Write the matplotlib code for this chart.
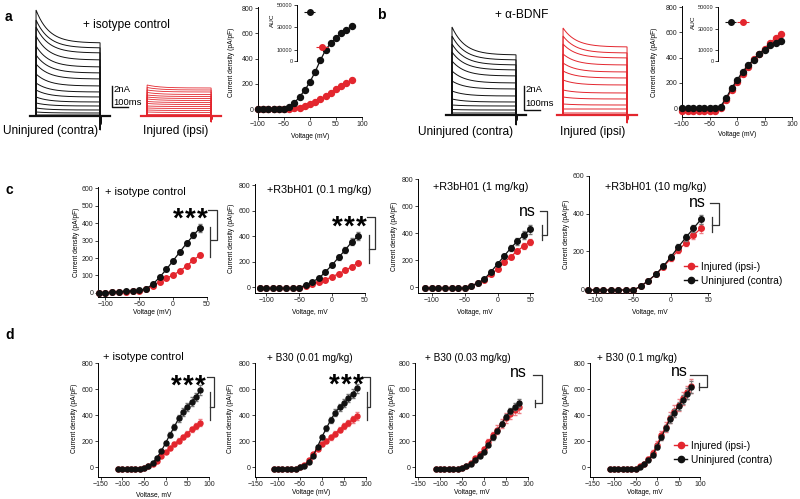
import numpy as np
import matplotlib
matplotlib.use('Agg')
import matplotlib.pyplot as plt
from matplotlib.lines import Line2D

plt.rcParams['font.family'] = ['Liberation Sans', 'DejaVu Sans']

# ---------------- data ----------------
# panel a / b current traces (nA), one value per voltage step
a_contra_peak = [10.6, 9.6, 8.9, 8.0, 7.0, 6.1, 5.2, 4.2, 3.3, 2.6, 1.9, 1.3, 0.8, 0.4, 0.1]
a_contra_steady = [7.3, 6.8, 6.3, 5.6, 4.9, 4.3, 3.7, 3.0, 2.4, 1.9, 1.4, 1.0, 0.6, 0.3, 0.1]
a_ipsi_peak = [3.1, 2.85, 2.6, 2.35, 2.1, 1.9, 1.7, 1.45, 1.25, 1.0, 0.8, 0.6, 0.4, 0.15]
a_ipsi_steady = [2.8, 2.6, 2.4, 2.15, 1.95, 1.75, 1.55, 1.35, 1.15, 0.95, 0.75, 0.55, 0.35, 0.15]
b_contra_peak = [8.8, 7.9, 7.1, 6.3, 5.4, 4.4, 3.4, 2.4, 1.6, 1.0, 0.55, 0.2]
b_contra_steady = [6.0, 5.5, 5.0, 4.5, 3.9, 3.2, 2.6, 1.9, 1.3, 0.9, 0.5, 0.2]
b_ipsi_peak = [8.7, 7.9, 7.1, 6.1, 5.2, 4.4, 3.5, 2.5, 1.8, 1.1, 0.6, 0.2]
b_ipsi_steady = [6.8, 6.2, 5.7, 5.0, 4.3, 3.7, 3.0, 2.2, 1.6, 1.0, 0.6, 0.2]
PULSE_MS = 400
TAU_MS = 80

# panel a / b IV curves (pA/pF)
ab_v = [-100, -90, -80, -70, -60, -50, -40, -30, -20, -10, 0, 10, 20, 30, 40, 50, 60, 70, 80]
a_contra = [0, 0, 0, 0, 0, 5, 20, 50, 98, 150, 216, 296, 388, 467, 525, 560, 599, 626, 655]
a_ipsi = [0, 0, 0, 0, 0, 0, 3, 8, 13, 25, 40, 58, 80, 103, 129, 156, 182, 209, 230]
b_contra = [0, 0, 0, 0, 0, 0, 0, 13, 78, 157, 222, 287, 339, 384, 431, 462, 496, 512, 530]
b_ipsi = [-20, -20, -20, -20, -20, -20, -20, 0, 65, 145, 205, 270, 325, 385, 430, 470, 515, 555, 585]
a_auc = [43700, 12300]   # contra, ipsi
b_auc = [36000, 36000]

# panel c
c_v = [-110, -100, -90, -80, -70, -60, -50, -40, -30, -20, -10, 0, 10, 20, 30, 40]
c3_v = [-110, -100, -90, -80, -70, -60, -50, -40, -30, -20, -10, 0, 10, 20, 30, 40, 50]
c1_contra = [0, 2, 4, 8, 10, 12, 15, 25, 50, 90, 135, 185, 235, 285, 330, 373]
c1_ipsi = [0, 2, 4, 6, 8, 10, 12, 20, 40, 65, 84, 103, 126, 154, 189, 217]
c1_contra_err = [2, 2, 2, 2, 2, 3, 3, 4, 5, 7, 9, 11, 13, 15, 18, 22]
c1_ipsi_err = [2, 2, 2, 2, 2, 2, 2, 3, 3, 4, 5, 6, 7, 8, 9, 10]
c2_contra = [-10, -10, -10, -10, -10, -10, -5, 15, 42, 68, 120, 172, 233, 290, 355, 400]
c2_ipsi = [-10, -10, -10, -10, -10, -10, -5, 5, 20, 40, 58, 80, 105, 130, 160, 190]
c2_contra_err = [3, 3, 3, 3, 3, 3, 3, 4, 6, 8, 12, 15, 18, 22, 26, 30]
c2_ipsi_err = [3, 3, 3, 3, 3, 3, 3, 3, 4, 5, 6, 7, 8, 9, 10, 12]
c3_contra = [-8, -8, -8, -8, -8, -8, -8, 10, 30, 59, 113, 170, 230, 287, 340, 385, 427]
c3_ipsi = [-8, -8, -8, -8, -8, -8, -8, 10, 28, 55, 94, 133, 183, 224, 267, 304, 335]
c3_contra_err = [3, 3, 3, 3, 3, 3, 3, 4, 6, 8, 12, 15, 18, 22, 26, 30, 32]
c3_ipsi_err = [3, 3, 3, 3, 3, 3, 3, 4, 5, 7, 9, 11, 13, 15, 17, 19, 20]
c4_contra = [-5, -5, -5, -5, -5, -5, -5, 15, 45, 78, 122, 171, 224, 274, 322, 370]
c4_ipsi = [-5, -5, -5, -5, -5, -5, -5, 15, 45, 78, 118, 163, 207, 246, 286, 322]
c4_contra_err = [3, 3, 3, 3, 3, 3, 3, 4, 6, 8, 10, 13, 16, 18, 20, 24]
c4_ipsi_err = [3, 3, 3, 3, 3, 3, 3, 4, 6, 8, 10, 13, 15, 17, 19, 22]

# panel d
d_v = [-110, -100, -90, -80, -70, -60, -50, -40, -30, -20, -10, 0, 10, 20, 30, 40, 50, 60, 70, 80]
d1_contra = [-15, -15, -12, -12, -10, -10, -5, 8, 35, 75, 125, 188, 252, 312, 375, 425, 465, 505, 540, 590]
d1_ipsi = [-15, -15, -12, -12, -10, -10, -5, 8, 25, 51, 85, 118, 149, 180, 206, 234, 260, 291, 317, 342]
d1_contra_err = [4, 4, 4, 4, 4, 4, 4, 5, 6, 8, 10, 14, 18, 22, 26, 28, 30, 32, 34, 38]
d1_ipsi_err = [3, 3, 3, 3, 3, 3, 3, 4, 5, 6, 8, 10, 12, 14, 16, 18, 20, 22, 24, 26]
d2_contra = [-12, -12, -12, -12, -12, -12, 0, 15, 45, 90, 160, 235, 300, 365, 420, 460, 495, 530, 565, 605]
d2_ipsi = [-12, -12, -12, -12, -12, -12, 0, 20, 55, 100, 145, 180, 205, 230, 260, 290, 317, 342, 368, 394]
d2_contra_err = [4, 4, 4, 4, 4, 4, 4, 5, 6, 8, 12, 16, 20, 24, 26, 28, 30, 32, 34, 36]
d2_ipsi_err = [3, 3, 3, 3, 3, 3, 3, 4, 6, 8, 10, 12, 14, 16, 18, 20, 22, 24, 26, 28]
d3_contra = [-15, -15, -15, -15, -15, -15, -5, 10, 30, 60, 90, 120, 175, 230, 280, 335, 390, 430, 465, 495]
d3_ipsi = [-15, -15, -15, -15, -15, -15, -5, 12, 35, 70, 100, 140, 195, 245, 290, 335, 380, 410, 440, 460]
d3_contra_err = [4, 4, 4, 4, 4, 4, 4, 5, 6, 8, 10, 12, 14, 16, 18, 20, 22, 24, 26, 30]
d3_ipsi_err = [4, 4, 4, 4, 4, 4, 4, 6, 8, 12, 16, 20, 24, 28, 32, 36, 38, 40, 42, 46]
d4_contra = [-15, -15, -15, -15, -15, -15, -8, 5, 25, 55, 95, 160, 230, 300, 370, 420, 470, 520, 565, 615]
d4_ipsi = [-15, -15, -15, -15, -15, -15, -8, 8, 30, 65, 110, 175, 245, 310, 380, 430, 480, 530, 575, 625]
d4_contra_err = [4, 4, 4, 4, 4, 4, 4, 5, 6, 8, 12, 16, 20, 24, 28, 30, 32, 36, 40, 44]
d4_ipsi_err = [5, 5, 5, 5, 5, 5, 5, 8, 10, 15, 20, 26, 32, 38, 42, 46, 48, 50, 52, 56]

BLACK = '#111111'
RED = '#e3262e'
W, H = 800, 499

fig = plt.figure(figsize=(8, 4.99), dpi=100)


def box(l, t, r, b):
    return [l / W, 1 - b / H, (r - l) / W, (b - t) / H]


def fx(x):
    return x / W


def fy(y):
    return 1 - y / H


def ftext(x, y, s, **kw):
    fig.text(fx(x), fy(y), s, **kw)


def stars(xc, yc):
    # three bold asterisks, ink centred on (xc, yc)
    for dx in (-12, 0, 12):
        ftext(xc + dx, yc + 15, '*', fontsize=20, fontweight='bold', ha='center', va='baseline')


def bracket(pts, extra):
    xs, ys = zip(*pts)
    fig.add_artist(Line2D([fx(v) for v in xs], [fy(v) for v in ys], color='#333333', lw=0.9))
    xs, ys = zip(*extra)
    fig.add_artist(Line2D([fx(v) for v in xs], [fy(v) for v in ys], color='#333333', lw=0.9))


def clean(ax, labelsize=5):
    for s in ['top', 'right']:
        ax.spines[s].set_visible(False)
    for s in ['left', 'bottom']:
        ax.spines[s].set_linewidth(0.7)
    ax.tick_params(length=2, width=0.6, labelsize=labelsize, pad=1.2, colors='#222222')


def iv_axes(rect, v, ipsi, contra, ipsi_err, contra_err, xlim, ylim, xt, yt, ms):
    ax = fig.add_axes(box(*rect))
    ax.errorbar(v, ipsi, yerr=ipsi_err, color=RED, ecolor='#ee8088', marker='o', ms=ms,
                lw=0.9, capsize=1.2, elinewidth=0.6, clip_on=False, zorder=3)
    ax.errorbar(v, contra, yerr=contra_err, color=BLACK, ecolor='#777777', marker='o', ms=ms,
                lw=0.9, capsize=1.2, elinewidth=0.6, clip_on=False, zorder=4)
    ax.set_xlim(*xlim)
    ax.set_ylim(*ylim)
    ax.set_xticks(xt)
    ax.set_yticks(yt)
    clean(ax)
    return ax


def traces(ax, t0, peaks, steadies, color, tail, lw):
    t = np.linspace(0, PULSE_MS, 200)
    for p, s in zip(peaks, steadies):
        cur = s + (p - s) * np.exp(-t / TAU_MS)
        tt = np.concatenate([[t0 - 40, t0], t0 + t, [t0 + PULSE_MS, t0 + PULSE_MS + 8, t0 + PULSE_MS + 60]])
        ii = np.concatenate([[0, 0], cur, [tail, 0, 0]])
        ax.plot(tt, ii, color=color, lw=lw, solid_joinstyle='miter')
    ax.plot([t0 - 40, t0 + PULSE_MS + 60], [0, 0], color=color, lw=1.6)


def auc_inset(rect, auc):
    ax = fig.add_axes(box(*rect))
    ax.patch.set_alpha(0)
    ax.errorbar([0], [auc[0]], xerr=0.45, fmt='o', color=BLACK, ms=4, elinewidth=0.8, capsize=0)
    ax.errorbar([1], [auc[1]], xerr=0.45, fmt='o', color=RED, ms=4, elinewidth=0.8, capsize=0)
    ax.set_xlim(-1, 2.2)
    ax.set_ylim(0, 50000)
    ax.set_yticks([0, 10000, 30000, 50000])
    ax.spines['bottom'].set_visible(False)
    ax.set_xticks([])
    clean(ax, labelsize=4.1)
    return ax


# ---------------- panel a ----------------
ax = fig.add_axes(box(25, 0, 230, 135))
ax.axis('off')
ax.set_xlim(-69, 1212)
ax.set_ylim(-1.9, 11.6)
traces(ax, 0, a_contra_peak, a_contra_steady, BLACK, -1.4, 0.7)
traces(ax, 694, a_ipsi_peak, a_ipsi_steady, RED, -0.6, 0.6)
ax.plot([475, 475, 575], [2.95, 0.9, 0.9], color=BLACK, lw=1)
ax.text(485, 2.6, '2nA', fontsize=6.8, va='center')
ax.text(480, 1.35, '100ms', fontsize=6.8, va='center')

ftext(5, 17, 'a', fontsize=10, fontweight='bold', va='center')
ftext(83, 25, '+ isotype control', fontsize=8.6, va='center')
ftext(3, 131, 'Uninjured (contra)', fontsize=8.6, va='center')
ftext(143, 131, 'Injured (ipsi)', fontsize=8.6, va='center')

r = (258, 7, 362, 117)
ax = iv_axes(r, ab_v, a_ipsi, a_contra, None, None, (-100, 100), (-62, 808),
             [-100, -50, 0, 50, 100], [0, 200, 400, 600, 800], 4.3)
ftext(310, 136, 'Voltage (mV)', fontsize=4.8, ha='center', va='center')
ftext(232, 62, 'Current density (pA/pF)', fontsize=4.8, ha='center', va='center', rotation=90)
auc_inset((297, 5, 337, 61), a_auc)
ftext(272, 20, 'AUC', fontsize=4.6, ha='center', va='center', rotation=90)

# ---------------- panel b ----------------
ax = fig.add_axes(box(440, 0, 640, 135))
ax.axis('off')
ax.set_xlim(-75, 1175)
ax.set_ylim(-2.0, 11.5)
traces(ax, 0, b_contra_peak, b_contra_steady, BLACK, -1.0, 0.7)
traces(ax, 694, b_ipsi_peak, b_ipsi_steady, RED, -0.8, 0.7)
ax.plot([450, 450, 550], [2.9, 0.5, 0.5], color=BLACK, lw=1)
ax.text(460, 2.5, '2nA', fontsize=6.8, va='center')
ax.text(455, 1.1, '100ms', fontsize=6.8, va='center')

ftext(377, 15, 'b', fontsize=10, fontweight='bold', va='center')
ftext(495, 15, '+ \u03b1-BDNF', fontsize=8.6, va='center')
ftext(418, 132, 'Uninjured (contra)', fontsize=8.6, va='center')
ftext(560, 132, 'Injured (ipsi)', fontsize=8.6, va='center')

r = (682, 6, 792, 117)
ax = iv_axes(r, ab_v, b_ipsi, b_contra, None, None, (-100, 100), (-70, 808),
             [-100, -50, 0, 50, 100], [0, 200, 400, 600, 800], 4.3)
ftext(737, 135, 'Voltage (mV)', fontsize=4.8, ha='center', va='center')
ftext(655, 62, 'Current density (pA/pF)', fontsize=4.8, ha='center', va='center', rotation=90)
auc_inset((718, 7, 758, 61), b_auc)
ftext(693, 22, 'AUC', fontsize=4.6, ha='center', va='center', rotation=90)

# ---------------- panel c ----------------
ftext(5, 190, 'c', fontsize=10, fontweight='bold', va='center')
cx = [-100, -50, 0, 50]
iv_axes((98, 187, 207, 297), c_v, c1_ipsi, c1_contra, c1_ipsi_err, c1_contra_err,
        (-111, 50), (-23, 606), cx, list(range(0, 601, 100)), 4)
iv_axes((255, 184, 365, 293), c_v, c2_ipsi, c2_contra, c2_ipsi_err, c2_contra_err,
        (-117, 50), (-47, 808), cx, [0, 200, 400, 600, 800], 4)
iv_axes((418, 179, 533, 293), c3_v, c3_ipsi, c3_contra, c3_ipsi_err, c3_contra_err,
        (-121, 54), (-44, 800), cx, [0, 200, 400, 600, 800], 4)
iv_axes((589, 176, 710, 293), c_v, c4_ipsi, c4_contra, c4_ipsi_err, c4_contra_err,
        (-109, 52), (-21, 600), cx, [0, 200, 400, 600], 4)

ftext(105, 192, '+ isotype control', fontsize=7.9, va='center')
ftext(267, 190, '+R3bH01 (0.1 mg/kg)', fontsize=7.8, va='center')
ftext(433, 187, '+R3bH01 (1 mg/kg)', fontsize=7.8, va='center')
ftext(605, 187, '+R3bH01 (10 mg/kg)', fontsize=7.8, va='center')
for xl, t in [(152, 'Voltage (mV)'), (310, 'Voltage, mV'), (475, 'Voltage, mV'), (650, 'Voltage, mV')]:
    ftext(xl, 312, t, fontsize=4.8, ha='center', va='center')
for yl, yc in [(77, 242), (232, 238), (395, 236), (566, 234)]:
    ftext(yl, yc, 'Current density (pA/pF)', fontsize=4.8, ha='center', va='center', rotation=90)

stars(190, 212)
stars(349, 220)
ftext(527, 216, 'ns', fontsize=11.5, ha='center', va='baseline')
ftext(697, 207, 'ns', fontsize=11.5, ha='center', va='baseline')
bracket([(208, 210), (217, 210), (217, 240), (211, 240)], [(210, 227), (210, 257)])
bracket([(367, 217), (375, 217), (375, 249), (369, 249)], [(369, 235), (369, 263)])
bracket([(540, 211), (547, 211), (547, 235), (542, 235)], [(542, 225), (542, 240)])
bracket([(710, 203), (719, 203), (719, 225), (712, 225)], [(712, 217), (712, 232)])

# ---------------- panel d ----------------
ftext(5, 335, 'd', fontsize=10, fontweight='bold', va='center')
dx = [-150, -100, -50, 0, 50, 100]
dy = [0, 200, 400, 600, 800]
iv_axes((98, 363, 209, 477), d_v, d1_ipsi, d1_contra, d1_ipsi_err, d1_contra_err,
        (-156, 100), (-73, 800), dx, dy, 3.6)
iv_axes((255, 363, 366, 477), d_v, d2_ipsi, d2_contra, d2_ipsi_err, d2_contra_err,
        (-152, 100), (-73, 800), dx, dy, 3.6)
iv_axes((415, 363, 528, 477), d_v, d3_ipsi, d3_contra, d3_ipsi_err, d3_contra_err,
        (-157, 100), (-73, 800), dx, dy, 3.6)
iv_axes((590, 363, 700, 477), d_v, d4_ipsi, d4_contra, d4_ipsi_err, d4_contra_err,
        (-156, 100), (-73, 800), dx, dy, 3.6)

ftext(103, 357, '+ isotype control', fontsize=7.9, va='center')
ftext(267, 358, '+ B30 (0.01 mg/kg)', fontsize=7.2, va='center')
ftext(425, 358, '+ B30 (0.03 mg/kg)', fontsize=7.2, va='center')
ftext(597, 358, '+ B30 (0.1 mg/kg)', fontsize=7.2, va='center')
for xl, yl, t in [(154, 495, 'Voltase, mV'), (311, 492, 'Voltage (mV)'),
                  (472, 492, 'Voltage, mV'), (645, 492, 'Voltage, mV')]:
    ftext(xl, yl, t, fontsize=4.8, ha='center', va='center')
for yl in [75, 231, 392, 566]:
    ftext(yl, 418, 'Current density (pA/pF)', fontsize=4.8, ha='center', va='center', rotation=90)

stars(188, 379)
stars(346, 378)
ftext(518, 377, 'ns', fontsize=11.5, ha='center', va='baseline')
ftext(679, 376, 'ns', fontsize=11.5, ha='center', va='baseline')
bracket([(207, 377), (214, 377), (214, 407), (210, 407)], [(210, 392), (210, 420)])
bracket([(362, 377), (370, 377), (370, 407), (367, 407)], [(367, 392), (367, 420)])
bracket([(533, 375), (542, 375), (542, 403), (535, 403)], [(535, 400), (535, 407)])
bracket([(690, 375), (707, 375), (707, 387), (699, 387)], [(699, 383), (699, 390)])

# legends
handles = [Line2D([], [], color=RED, marker='o', ms=4.5, lw=1),
           Line2D([], [], color=BLACK, marker='o', ms=4.5, lw=1)]
labels = ['Injured (ipsi-)', 'Uninjured (contra)']
for lx, ly in [(684, 262), (674, 441)]:
    fig.legend(handles, labels, loc='upper left', bbox_to_anchor=(fx(lx), fy(ly)),
               bbox_transform=fig.transFigure, frameon=False, fontsize=7.3,
               handlelength=1.3, handletextpad=0.4, labelspacing=0.35,
               borderpad=0, borderaxespad=0)

fig.savefig('out.png', dpi=100)
